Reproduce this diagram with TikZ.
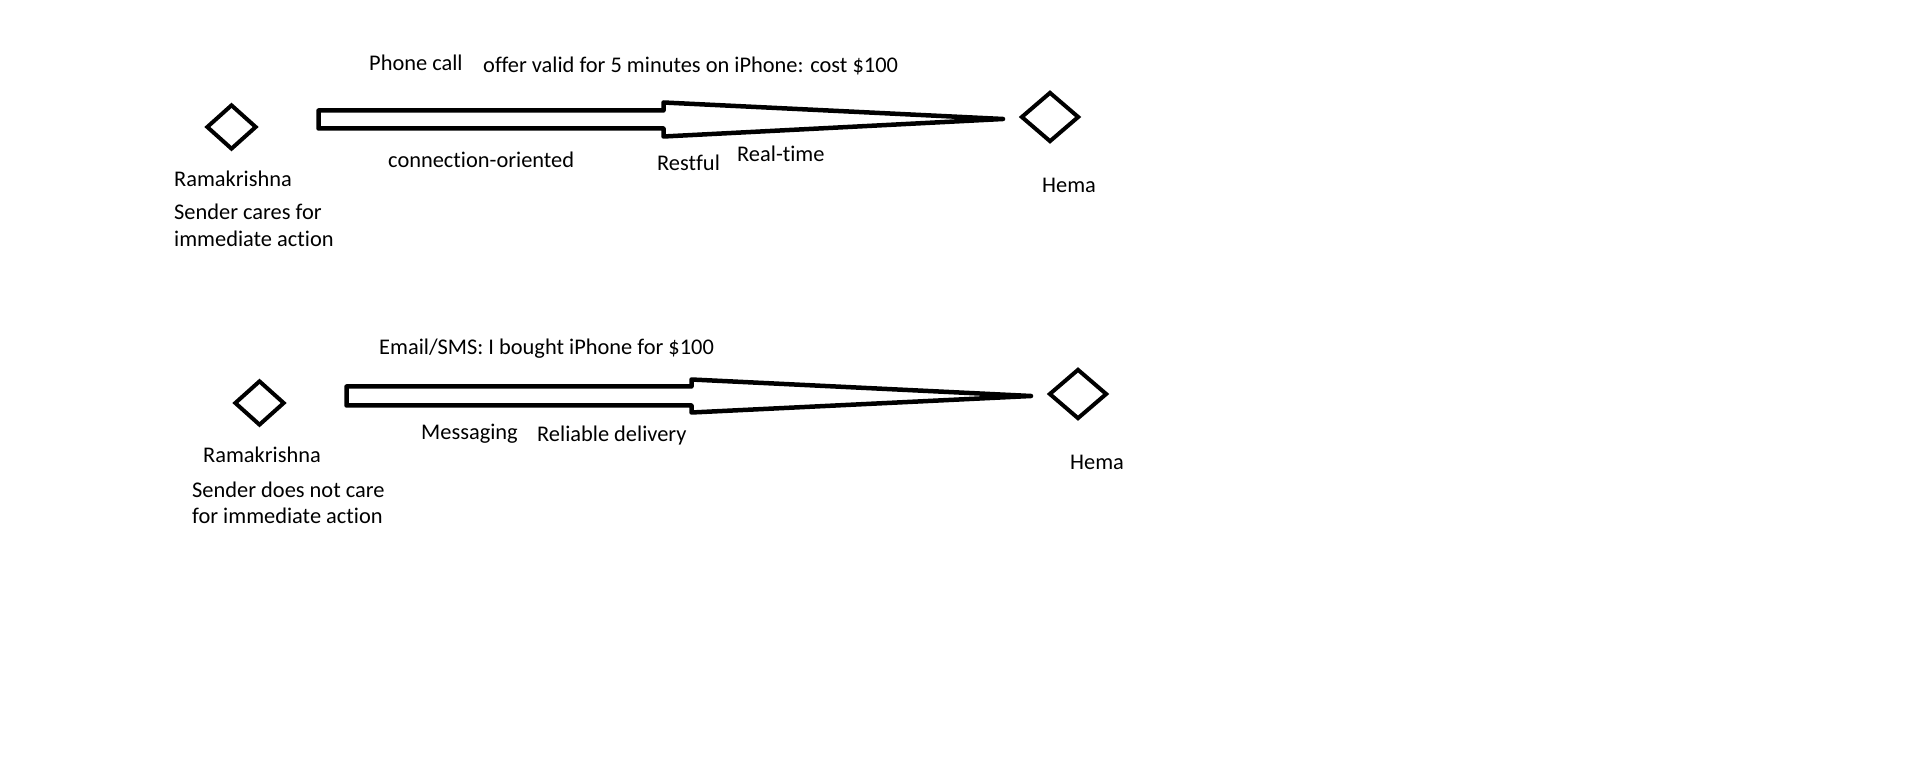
\documentclass[tikz,border=0pt]{standalone}
\usepackage{fontspec}
\setmainfont[Ligatures=NoCommon]{Carlito}
\usepackage{tikz}
\usetikzlibrary{calc,shapes.geometric}
\tikzset{
  party/.style={
    diamond,draw=black,line width=4pt,inner sep=0pt,
    minimum width=50pt,minimum height=45pt
  },
  receiver/.style={party,minimum width=58pt,minimum height=50pt},
  label/.style={
    anchor=base west,inner sep=0pt,
    font=\fontsize{22.4}{27}\selectfont
  },
  fatarrow/.style={draw=black,fill=white,line width=4.5pt,line join=round}
}
\begin{document}
\begin{tikzpicture}[x=1pt,y=1pt]
\useasboundingbox[fill=white] (0,0) rectangle (1914,761);

% phone call
\node[party] (ramA) at (231.5,634) {};
\node[receiver] (heA) at (1050,644) {};
\coordinate (tailA) at ($(ramA.east)+(60,7.5)$);
\coordinate (tipA) at ($(heA.west)+(-16,-2)$);
\draw[fatarrow] ($(tailA)+(0,9)$) -- ($(tailA)+(345,9)$) -- ($(tailA)+(345,17)$)
  -- (tipA) -- ($(tailA)+(345,-17)$) -- ($(tailA)+(345,-9)$)
  -- ($(tailA)+(0,-9)$) -- cycle;

\node[label] (callA) at (369,690) {Phone call};
\node[label] (offerA) at (483,688) {offer valid for 5 minutes on iPhone: cost \$100};
\node[label] (connA) at (388,593) {connection-oriented};
\node[label] (restA) at (657,590) {Restful};
\node[label] (realA) at (737,599) {Real-time};
\node[label] (nameA) at (174,574) {Ramakrishna};
\node[label] (sendA) at (174,541) {Sender cares for};
\node[label] (sendA2) at (174,514) {immediate action};
\node[label] (hemaA) at (1042,568) {Hema};

% email / sms
\node[party] (ramB) at (259.5,358) {};
\node[receiver] (heB) at (1078,367) {};
\coordinate (tailB) at ($(ramB.east)+(60,7)$);
\coordinate (tipB) at ($(heB.west)+(-16,-2)$);
\draw[fatarrow] ($(tailB)+(0,9.5)$) -- ($(tailB)+(345,9.5)$) -- ($(tailB)+(345,16.5)$)
  -- (tipB) -- ($(tailB)+(345,-16.5)$) -- ($(tailB)+(345,-9.5)$)
  -- ($(tailB)+(0,-9.5)$) -- cycle;

\node[label] (mailB) at (379,406) {Email/SMS: I bought iPhone for \$100};
\node[label] (msgB) at (421,321) {Messaging};
\node[label] (relB) at (537,319) {Reliable delivery};
\node[label] (nameB) at (203,298) {Ramakrishna};
\node[label] (sendB) at (192,263) {Sender does not care};
\node[label] (sendB2) at (192,237) {for immediate action};
\node[label] (hemaB) at (1070,291) {Hema};
\end{tikzpicture}
\end{document}
